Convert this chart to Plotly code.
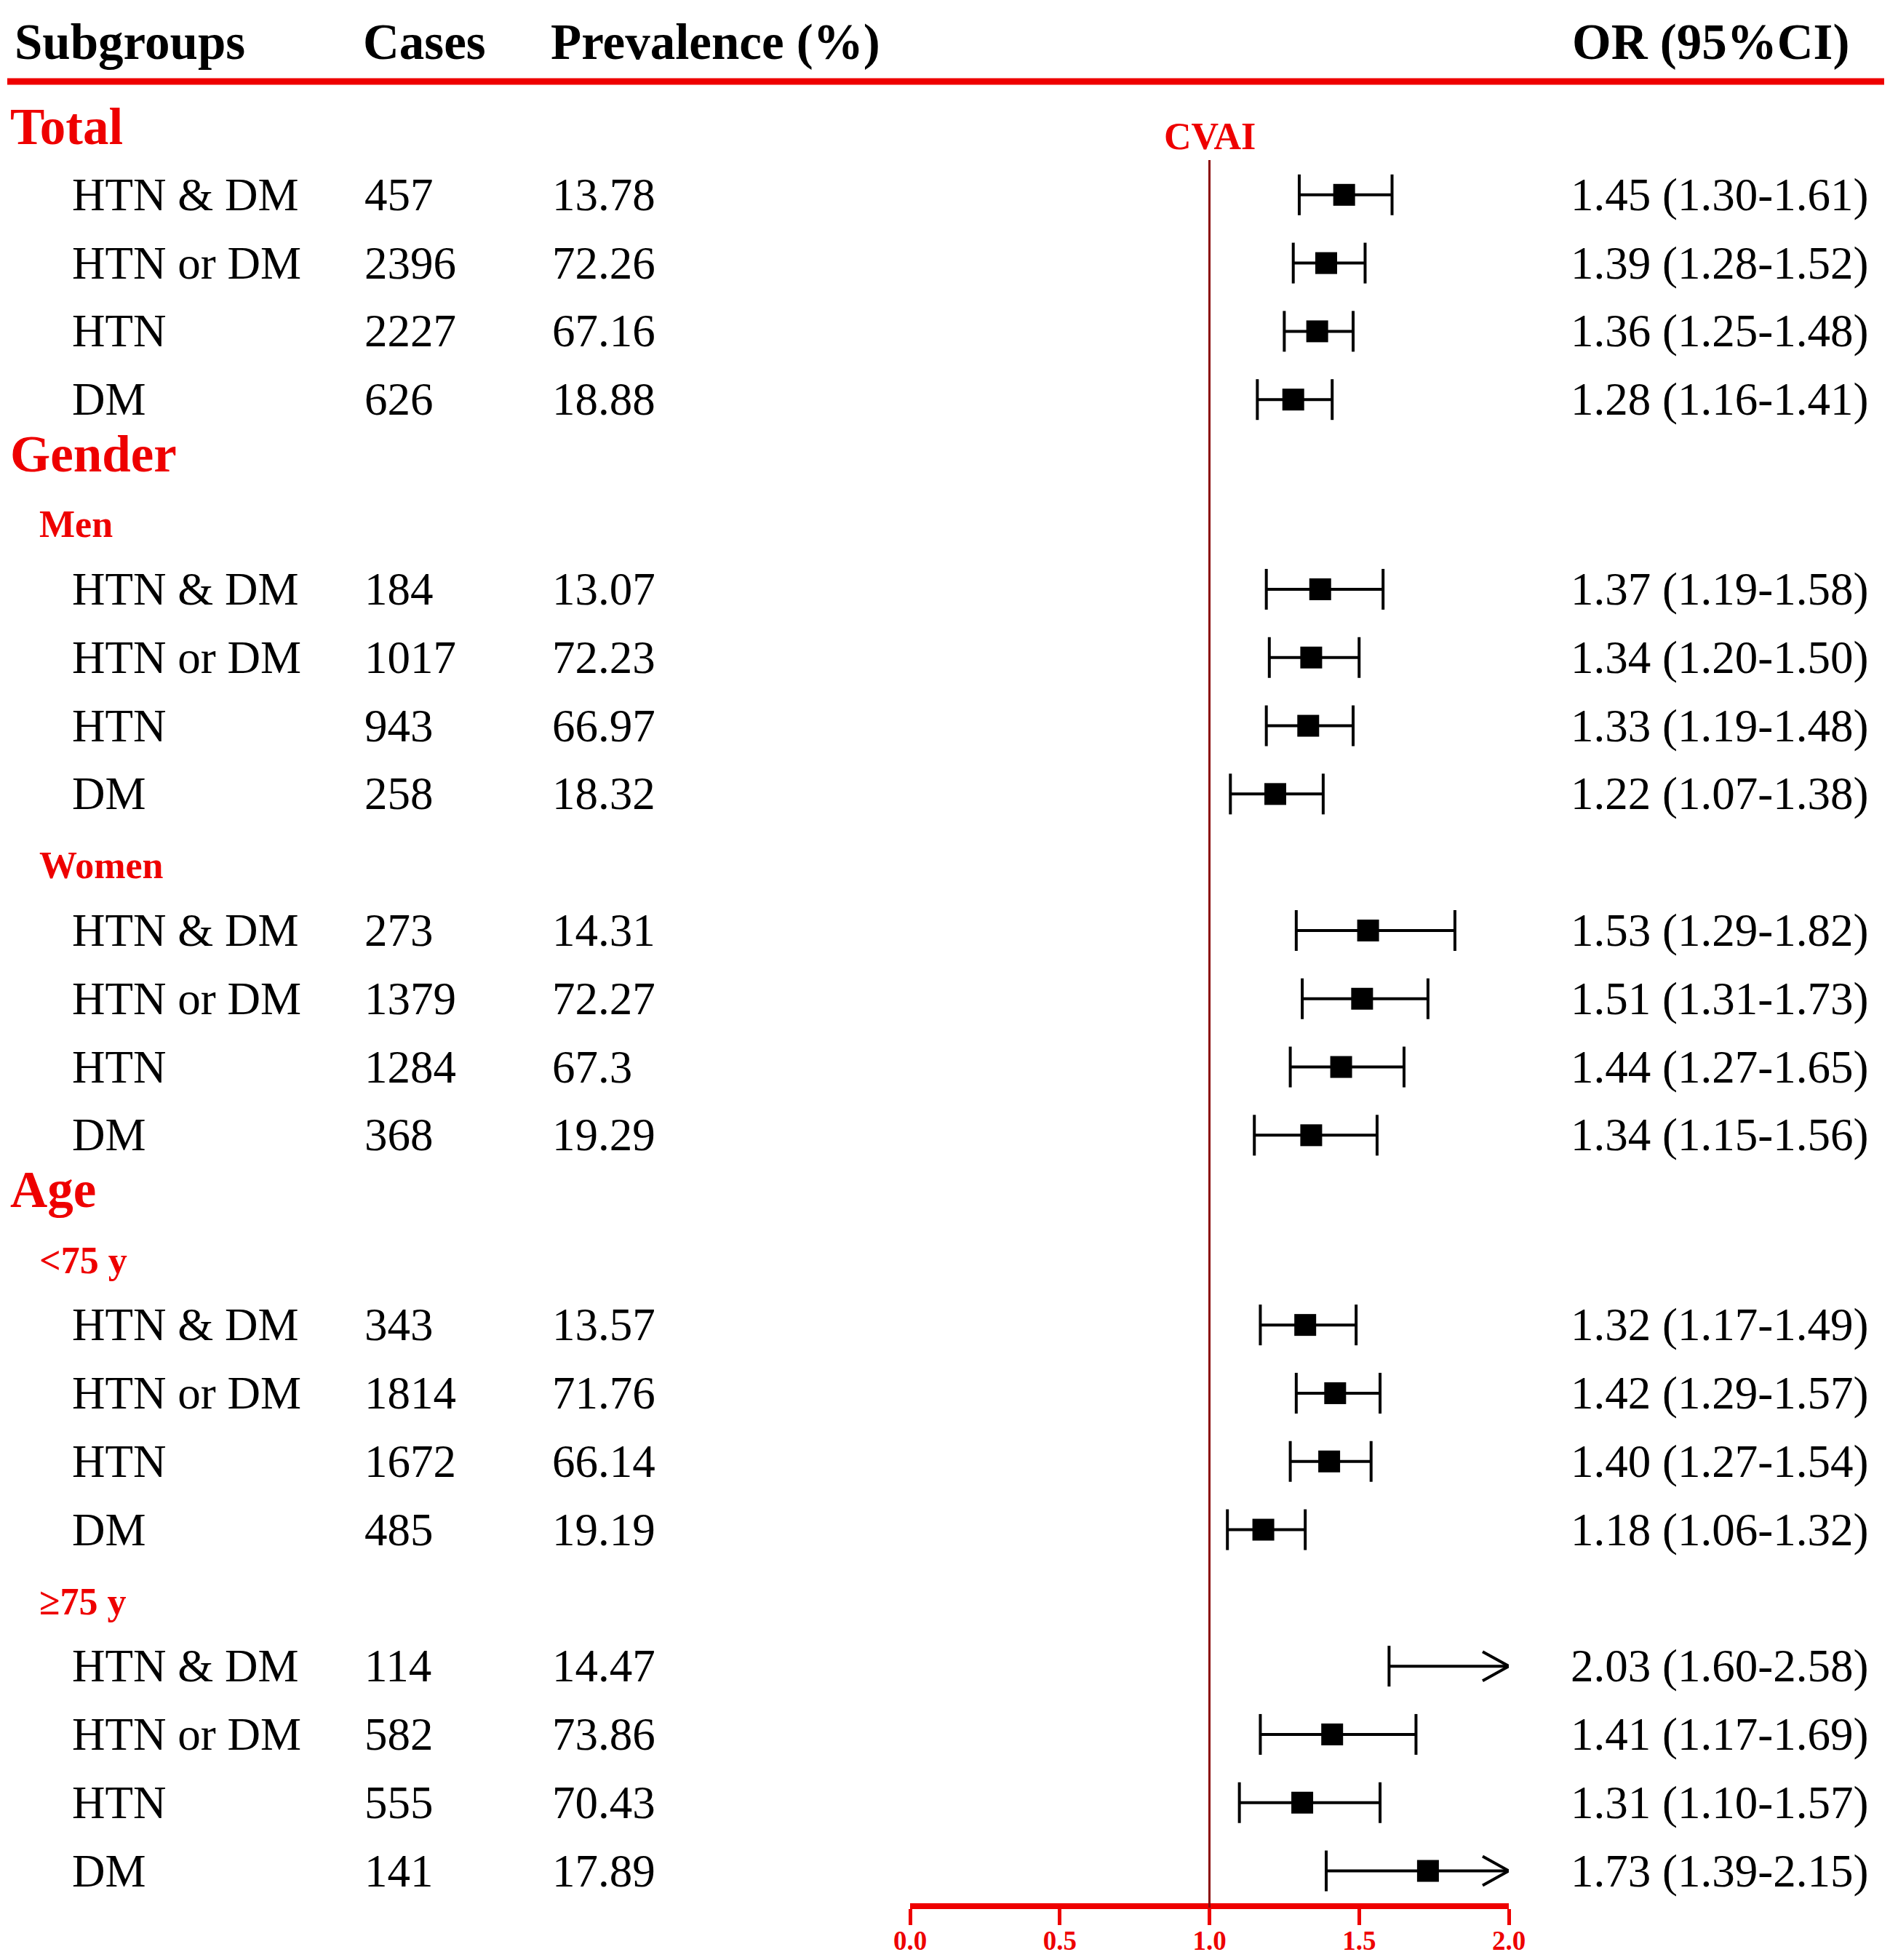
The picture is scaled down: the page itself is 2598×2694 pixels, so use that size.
import plotly.graph_objects as go

# ---------------- data ----------------
subgroups = ["HTN & DM", "HTN or DM", "HTN", "DM"] * 5
cases = [457, 2396, 2227, 626,
         184, 1017, 943, 258,
         273, 1379, 1284, 368,
         343, 1814, 1672, 485,
         114, 582, 555, 141]
prevalence = ["13.78", "72.26", "67.16", "18.88",
              "13.07", "72.23", "66.97", "18.32",
              "14.31", "72.27", "67.3", "19.29",
              "13.57", "71.76", "66.14", "19.19",
              "14.47", "73.86", "70.43", "17.89"]
odds_ratio = [1.45, 1.39, 1.36, 1.28,
              1.37, 1.34, 1.33, 1.22,
              1.53, 1.51, 1.44, 1.34,
              1.32, 1.42, 1.40, 1.18,
              2.03, 1.41, 1.31, 1.73]
ci_low = [1.30, 1.28, 1.25, 1.16,
          1.19, 1.20, 1.19, 1.07,
          1.29, 1.31, 1.27, 1.15,
          1.17, 1.29, 1.27, 1.06,
          1.60, 1.17, 1.10, 1.39]
ci_high = [1.61, 1.52, 1.48, 1.41,
           1.58, 1.50, 1.48, 1.38,
           1.82, 1.73, 1.65, 1.56,
           1.49, 1.57, 1.54, 1.32,
           2.58, 1.69, 1.57, 2.15]
# blocks of 4 rows: (group heading, sub heading)
blocks = [("Total", None), ("Gender", "Men"), (None, "Women"),
          ("Age", "<75 y"), (None, "≥75 y")]
x_ticks = [0.0, 0.5, 1.0, 1.5, 2.0]
x_tick_labels = ["0.0", "0.5", "1.0", "1.5", "2.0"]
ref_value = 1.0
ref_label = "CVAI"
headers = ["Subgroups", "Cases", "Prevalence (%)", "OR (95%CI)"]

# ---------------- layout constants ----------------
W, H = 2598, 2694
OFF = 8.0  # page offset of the figure inside the browser window
FONT = "Liberation Serif, Times New Roman, serif"
RED = "#EE0000"
DARKRED = "#8B0A0A"
Y0_PX, SLOT_PX = 174.0, 93.8
X_MAX = 2.0
PX_X0, PX_X2 = 1251.0, 2074.0
UNIT_PX = (PX_X2 - PX_X0) / X_MAX


def px(p):
    """window pixel -> figure pixel"""
    return p - OFF


def fx(p):
    return px(p) / W


def fy(p):
    return 1 - px(p) / H


def slot(p):
    return (p - Y0_PX) / SLOT_PX


GAP = {("group", "item"): 1.0, ("item", "item"): 1.0, ("item", "group"): 0.8,
       ("group", "sub"): 1.03, ("sub", "item"): 0.95, ("item", "sub"): 1.05}

group_rows, sub_rows, item_y = [], [], []
pos, prev = 0.0, None
for g, s in blocks:
    if g is not None:
        pos = pos + GAP[(prev, "group")] if prev else 0.0
        group_rows.append((g, pos))
        prev = "group"
    if s is not None:
        pos += GAP[(prev, "sub")]
        sub_rows.append((s, pos))
        prev = "sub"
    for _ in range(4):
        pos += GAP[(prev, "item")]
        item_y.append(pos)
        prev = "item"

fig = go.Figure()

# CI lines
lx, ly = [], []
for lo, hi, y in zip(ci_low, ci_high, item_y):
    lx += [lo, min(hi, X_MAX), None]
    ly += [y, y, None]
fig.add_trace(go.Scatter(x=lx, y=ly, mode="lines",
                         line=dict(color="black", width=4), hoverinfo="skip"))

# caps
cap_x = list(ci_low) + [h for h in ci_high if h <= X_MAX]
cap_y = list(item_y) + [y for h, y in zip(ci_high, item_y) if h <= X_MAX]
fig.add_trace(go.Scatter(x=cap_x, y=cap_y, mode="markers", cliponaxis=False,
                         marker=dict(symbol="line-ns", size=40,
                                     line=dict(color="black", width=4))))

# arrowheads for CIs beyond axis
dx, dy = 36 / UNIT_PX, 20 / SLOT_PX
ax_, ay_ = [], []
for hi, y in zip(ci_high, item_y):
    if hi > X_MAX:
        ax_ += [X_MAX - dx, X_MAX, X_MAX - dx, None]
        ay_ += [y - dy, y, y + dy, None]
fig.add_trace(go.Scatter(x=ax_, y=ay_, mode="lines",
                         line=dict(color="black", width=4), hoverinfo="skip"))

# point estimates
px_ = [o for o in odds_ratio if o <= X_MAX]
py_ = [y for o, y in zip(odds_ratio, item_y) if o <= X_MAX]
fig.add_trace(go.Scatter(x=px_, y=py_, mode="markers", cliponaxis=False,
                         marker=dict(symbol="square", size=30, color="black",
                                     line=dict(width=0))))

ann = []


def add_text(text, x, y, size, color="black", bold=False, anchor="left", xref="paper"):
    ann.append(dict(text=text, x=x, y=y, xref=xref, yref="y",
                    xanchor=anchor, yanchor="middle", showarrow=False,
                    font=dict(family=FONT, size=size, color=color,
                              weight="bold" if bold else "normal")))


# headers
hy = slot(58)
add_text(headers[0], fx(18), hy, 69, bold=True)
add_text(headers[1], fx(497), hy, 69, bold=True)
add_text(headers[2], fx(755), hy, 69, bold=True)
add_text(headers[3], fx(2544), hy, 69, bold=True, anchor="right")

for g, y in group_rows:
    add_text(g, fx(12), y, 71, color=RED, bold=True)
for s, y in sub_rows:
    add_text(s, fx(52), y, 52, color=RED, bold=True)
for name, c, p, o, lo, hi, y in zip(subgroups, cases, prevalence, odds_ratio,
                                    ci_low, ci_high, item_y):
    add_text(name, fx(97), y, 63)
    add_text(str(c), fx(499), y, 63)
    add_text(p, fx(757), y, 63)
    add_text(f"{o:.2f} ({lo:.2f}-{hi:.2f})", fx(2570), y, 63, anchor="right")

add_text(ref_label, ref_value, slot(187), 52, color=RED, bold=True,
         anchor="center", xref="x")

shapes = [
    dict(type="line", xref="paper", yref="paper", x0=fx(10), x1=fx(2591),
         y0=fy(112), y1=fy(112), line=dict(color=RED, width=9)),
    dict(type="line", xref="x", yref="y", x0=ref_value, x1=ref_value,
         y0=slot(220), y1=slot(2622), line=dict(color=DARKRED, width=3)),
]

fig.update_layout(
    width=W, height=H, margin=dict(l=0, r=0, t=0, b=0, autoexpand=False),
    paper_bgcolor="white", plot_bgcolor="white", showlegend=False,
    annotations=ann, shapes=shapes,
    xaxis=dict(domain=[fx(PX_X0), fx(PX_X2)], range=[0, X_MAX],
               anchor="free", position=fy(2620), automargin=False,
               showgrid=False, zeroline=False, showline=True,
               linecolor=RED, linewidth=8, ticks="outside", tickcolor=RED,
               tickwidth=5, ticklen=22, ticklabelstandoff=-10,
               tickvals=x_ticks, ticktext=x_tick_labels,
               tickfont=dict(family=FONT, size=37, color=RED, weight="bold")),
    yaxis=dict(domain=[0, 1], range=[slot(OFF + H), slot(OFF)], visible=False,
               automargin=False, showgrid=False, zeroline=False),
)

fig.write_html("out.html")
